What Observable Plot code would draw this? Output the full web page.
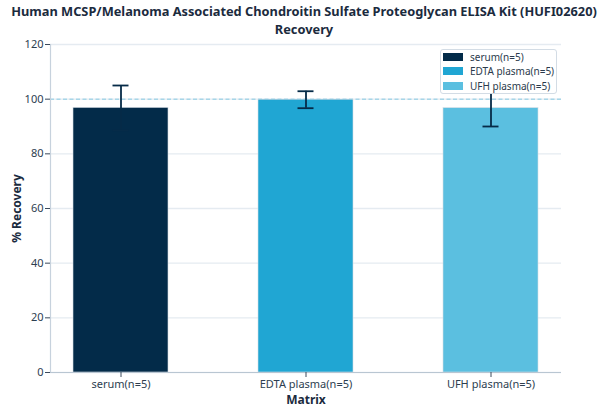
<!DOCTYPE html>
<html>
<head>
<meta charset="utf-8">
<script src="https://cdn.jsdelivr.net/npm/d3@7"></script>
<script src="https://cdn.jsdelivr.net/npm/@observablehq/plot@0.6"></script>
<style>
  html, body { margin: 0; padding: 0; background: #fff; }
  #wrap { position: relative; width: 608px; height: 415px; font-family: "Noto Sans", sans-serif; }
  #title { height: 36px; box-sizing: border-box; padding-top: 3px; text-align: center; font-weight: bold; font-size: 12.8px; line-height: 17.5px; color: #1b2b3e; white-space: nowrap; overflow: visible; }
  #title div { height: 17.5px; }
  #legend { position: absolute; left: 440px; top: 49px; width: 117px; height: 45px; box-sizing: border-box; background: #fff; border: 1px solid #d3dce5; border-radius: 3px; padding: 0 0 0 2px; font-size: 10px; color: #2b3a4c; }
  .row { display: flex; align-items: center; height: 14.3px; line-height: 12px; }
  .sw { width: 20px; height: 8px; margin-right: 7px; }
  svg g[aria-label="y-axis label"] text, svg g[aria-label="x-axis label"] text { font-weight: bold; font-size: 12px; fill: #1b2b3e; }
</style>
</head>
<body>
<div id="wrap">
  <div id="title"><div>Human MCSP/Melanoma Associated Chondroitin Sulfate Proteoglycan ELISA Kit (HUFI02620)</div><div>Recovery</div></div>
  <div id="chart"></div>
  <div id="legend"></div>
</div>
<script>
const categories = ["serum(n=5)", "EDTA plasma(n=5)", "UFH plasma(n=5)"];
const recovery = [96.8, 99.8, 96.7];
const errors = [8.2, 3.1, 6.7];
const colors = ["#032b49", "#20a6d3", "#5bbfe0"];
const yTicks = [0, 20, 40, 60, 80, 100, 120];

const data = categories.map((c, i) => ({cat: c, v: recovery[i], e: errors[i], color: colors[i]}));
const errColor = "#062b48";

const plot = Plot.plot({
  width: 608,
  height: 375,
  marginLeft: 50,
  marginRight: 47,
  marginTop: 8,
  marginBottom: 39,
  style: {fontFamily: "Noto Sans, sans-serif", fontSize: "11px", color: "#2d3e50", background: "#fff"},
  x: {domain: categories, paddingInner: 0.4865, paddingOuter: 0.124},
  y: {domain: [0, 120]},
  marks: [
    Plot.gridY(yTicks, {stroke: "#e5ebf1", strokeOpacity: 1, strokeWidth: 1.4}),
    Plot.ruleY([100], {stroke: "#86c9e3", strokeDasharray: "4,2.5", strokeWidth: 1}),
    Plot.barY(data, {x: "cat", y: "v", fill: "color", stroke: "#d5dde4", strokeWidth: 0.6}),
    Plot.ruleX(data, {x: "cat", y1: d => d.v - d.e, y2: d => d.v + d.e, stroke: errColor, strokeWidth: 1.8}),
    Plot.tickY(data, {x: "cat", y: d => d.v + d.e, stroke: errColor, strokeWidth: 1.8, insetLeft: 39.5, insetRight: 39.5}),
    Plot.tickY(data, {x: "cat", y: d => d.v - d.e, stroke: errColor, strokeWidth: 1.8, insetLeft: 39.5, insetRight: 39.5}),
    Plot.frame({anchor: "left", stroke: "#c7d2dd", strokeWidth: 1.2}),
    Plot.ruleY([0], {stroke: "#b9c6d2", strokeWidth: 1.2}),
    Plot.axisY(yTicks, {tickSize: 5, tickPadding: 2, label: "% Recovery", labelAnchor: "center", labelOffset: 38, labelArrow: "none", stroke: "#3a4a5c"}),
    Plot.axisX({tickSize: 5, tickPadding: 3, label: "Matrix", labelAnchor: "center", labelOffset: 31, labelArrow: "none", stroke: "#3a4a5c"})
  ]
});
document.getElementById("chart").appendChild(plot);

const legend = document.getElementById("legend");
categories.forEach((c, i) => {
  const row = document.createElement("div");
  row.className = "row";
  const sw = document.createElement("div");
  sw.className = "sw";
  sw.style.background = colors[i];
  const t = document.createElement("span");
  t.textContent = c;
  row.appendChild(sw);
  row.appendChild(t);
  legend.appendChild(row);
});
</script>
</body>
</html>
